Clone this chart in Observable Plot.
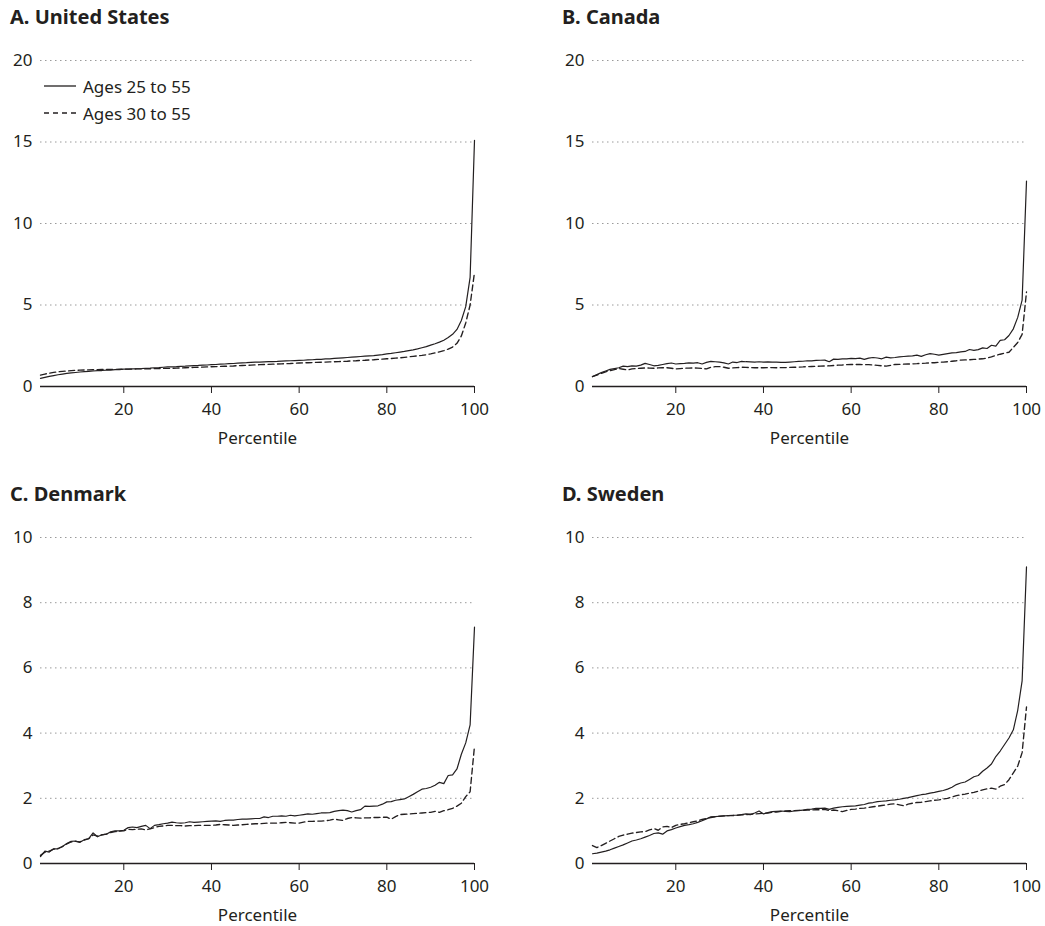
<!DOCTYPE html>
<html>
<head>
<meta charset="utf-8">
<script src="https://cdn.jsdelivr.net/npm/d3@7"></script>
<script src="https://cdn.jsdelivr.net/npm/@observablehq/plot@0.6"></script>
<style>
  body { margin: 0; background: #fff; font-family: "Noto Sans", sans-serif; color: #231f20; }
  #root { position: relative; width: 1045px; height: 926px; overflow: hidden; }
  .panel { position: absolute; width: 530px; height: 470px; }
  .title { position: absolute; left: 10px; top: 5px; font-weight: 700; font-size: 20px; line-height: 24px; white-space: nowrap; color: #231f20; }
  .chart { position: absolute; left: 0; top: 40px; }
  .legend-row { position: absolute; left: 44px; height: 26px; display: flex; align-items: center; font-size: 17px; white-space: nowrap; }
  .legend-row svg { margin-right: 7px; }
</style>
</head>
<body>
<div id="root"></div>
<script>
// ---------- data ----------
const percentiles = d3.range(1, 101);
const xTicks = [20, 40, 60, 80, 100];
const seriesNames = ["Ages 25 to 55", "Ages 30 to 55"];

const panelTitles = ["A. United States", "B. Canada", "C. Denmark", "D. Sweden"];
const yTicksTop = [0, 5, 10, 15, 20];
const yTicksBottom = [0, 2, 4, 6, 8, 10];

const usSolid = [
  0.50,0.56,0.62,0.67,0.72,0.76,0.80,0.83,0.86,0.89,
  0.91,0.93,0.95,0.97,0.98,1.00,1.01,1.03,1.04,1.06,
  1.07,1.08,1.09,1.10,1.12,1.13,1.15,1.16,1.18,1.20,
  1.21,1.22,1.24,1.25,1.27,1.28,1.29,1.31,1.32,1.34,
  1.35,1.37,1.38,1.40,1.41,1.43,1.45,1.46,1.48,1.50,
  1.50,1.51,1.52,1.53,1.54,1.56,1.57,1.58,1.59,1.60,
  1.61,1.63,1.64,1.66,1.67,1.69,1.70,1.72,1.74,1.76,
  1.78,1.80,1.82,1.84,1.86,1.88,1.90,1.93,1.96,2.00,
  2.03,2.07,2.11,2.15,2.20,2.25,2.31,2.38,2.45,2.54,
  2.62,2.72,2.84,3.00,3.20,3.50,4.05,4.90,6.70,15.10
];
const usDashed = [
  0.70,0.76,0.82,0.87,0.90,0.93,0.95,0.97,0.99,1.00,
  1.01,1.02,1.03,1.03,1.04,1.04,1.05,1.05,1.06,1.06,
  1.07,1.07,1.08,1.08,1.09,1.09,1.10,1.10,1.11,1.11,
  1.12,1.13,1.14,1.15,1.16,1.17,1.18,1.19,1.20,1.21,
  1.22,1.23,1.24,1.25,1.26,1.28,1.29,1.30,1.31,1.33,
  1.34,1.35,1.36,1.37,1.38,1.39,1.40,1.41,1.43,1.44,
  1.45,1.46,1.47,1.48,1.49,1.50,1.51,1.52,1.53,1.54,
  1.55,1.57,1.58,1.60,1.61,1.63,1.64,1.66,1.68,1.70,
  1.72,1.74,1.76,1.79,1.82,1.85,1.88,1.91,1.95,2.00,
  2.06,2.13,2.20,2.30,2.42,2.65,3.10,3.90,5.00,7.00
];
const caSolid = [
  0.61,0.73,0.85,0.95,1.05,1.10,1.15,1.25,1.22,1.27,
  1.25,1.31,1.42,1.35,1.27,1.30,1.35,1.40,1.44,1.38,
  1.40,1.42,1.45,1.44,1.46,1.38,1.48,1.54,1.52,1.50,
  1.45,1.38,1.50,1.47,1.54,1.52,1.51,1.50,1.52,1.50,
  1.51,1.50,1.49,1.48,1.48,1.50,1.52,1.54,1.55,1.58,
  1.57,1.60,1.61,1.62,1.52,1.68,1.67,1.69,1.70,1.72,
  1.71,1.74,1.66,1.74,1.78,1.75,1.70,1.80,1.76,1.78,
  1.82,1.84,1.86,1.88,1.92,1.85,1.95,2.02,1.98,1.92,
  1.97,2.02,2.06,2.08,2.12,2.15,2.27,2.22,2.26,2.37,
  2.33,2.53,2.48,2.83,2.87,3.13,3.54,4.24,5.30,12.60
];
const caDashed = [
  0.60,0.70,0.80,0.90,0.97,1.04,1.10,1.06,1.02,1.08,
  1.10,1.12,1.14,1.13,1.12,1.14,1.15,1.15,1.12,1.08,
  1.10,1.12,1.13,1.14,1.13,1.11,1.08,1.18,1.22,1.22,
  1.18,1.12,1.14,1.16,1.18,1.17,1.16,1.15,1.15,1.15,
  1.16,1.16,1.15,1.16,1.16,1.17,1.18,1.19,1.20,1.22,
  1.23,1.24,1.25,1.26,1.27,1.29,1.31,1.32,1.34,1.35,
  1.35,1.35,1.34,1.34,1.32,1.30,1.27,1.25,1.30,1.35,
  1.36,1.37,1.38,1.39,1.40,1.42,1.43,1.45,1.46,1.48,
  1.50,1.52,1.55,1.58,1.62,1.63,1.64,1.66,1.68,1.70,
  1.75,1.82,1.90,1.98,2.05,2.10,2.40,2.70,3.20,5.80
];
const dkSolid = [
  0.21,0.38,0.35,0.45,0.45,0.52,0.61,0.68,0.69,0.65,
  0.73,0.76,0.94,0.82,0.88,0.90,0.97,1.00,1.00,1.02,
  1.10,1.12,1.10,1.14,1.17,1.07,1.17,1.19,1.22,1.24,
  1.27,1.25,1.24,1.25,1.28,1.26,1.27,1.28,1.29,1.30,
  1.31,1.29,1.32,1.33,1.33,1.35,1.36,1.36,1.37,1.38,
  1.38,1.43,1.41,1.45,1.45,1.46,1.45,1.48,1.46,1.48,
  1.50,1.52,1.51,1.53,1.55,1.55,1.56,1.60,1.62,1.64,
  1.62,1.58,1.62,1.65,1.76,1.75,1.76,1.77,1.82,1.89,
  1.90,1.94,1.96,1.98,2.05,2.12,2.20,2.28,2.30,2.34,
  2.40,2.49,2.45,2.70,2.72,2.90,3.35,3.70,4.25,7.25
];
const dkDashed = [
  0.25,0.35,0.38,0.44,0.46,0.52,0.60,0.66,0.68,0.66,
  0.72,0.76,0.88,0.84,0.88,0.90,0.95,0.98,0.99,1.00,
  1.05,1.04,1.05,1.06,1.03,1.06,1.10,1.14,1.15,1.17,
  1.17,1.16,1.16,1.15,1.16,1.16,1.17,1.17,1.17,1.17,
  1.18,1.20,1.19,1.18,1.17,1.18,1.19,1.20,1.21,1.22,
  1.22,1.23,1.24,1.24,1.24,1.25,1.26,1.25,1.24,1.24,
  1.27,1.29,1.29,1.30,1.30,1.31,1.33,1.36,1.34,1.32,
  1.38,1.41,1.40,1.39,1.40,1.40,1.41,1.41,1.42,1.42,
  1.36,1.44,1.50,1.51,1.52,1.53,1.54,1.55,1.56,1.57,
  1.60,1.57,1.62,1.65,1.69,1.76,1.85,2.05,2.20,3.60
];
const seSolid = [
  0.30,0.32,0.35,0.38,0.42,0.47,0.52,0.57,0.63,0.69,
  0.72,0.76,0.81,0.86,0.92,0.94,0.90,1.00,1.04,1.09,
  1.13,1.17,1.19,1.22,1.26,1.31,1.37,1.43,1.44,1.45,
  1.46,1.47,1.48,1.48,1.50,1.52,1.50,1.55,1.61,1.52,
  1.56,1.59,1.60,1.61,1.60,1.59,1.61,1.62,1.64,1.66,
  1.67,1.69,1.69,1.70,1.66,1.70,1.72,1.74,1.75,1.76,
  1.77,1.79,1.81,1.85,1.87,1.90,1.91,1.92,1.94,1.95,
  1.97,2.00,2.02,2.05,2.08,2.11,2.13,2.16,2.18,2.21,
  2.24,2.28,2.34,2.42,2.47,2.50,2.58,2.66,2.70,2.83,
  2.93,3.05,3.28,3.45,3.65,3.85,4.10,4.70,5.60,9.10
];
const seDashed = [
  0.55,0.49,0.55,0.62,0.69,0.76,0.83,0.87,0.90,0.93,
  0.95,0.97,0.98,1.03,1.07,1.02,1.12,1.14,1.10,1.17,
  1.20,1.22,1.25,1.28,1.31,1.35,1.38,1.41,1.43,1.45,
  1.46,1.47,1.47,1.48,1.49,1.50,1.51,1.52,1.53,1.54,
  1.55,1.57,1.58,1.60,1.61,1.62,1.62,1.63,1.63,1.64,
  1.64,1.65,1.65,1.66,1.62,1.64,1.62,1.59,1.63,1.66,
  1.67,1.69,1.70,1.72,1.74,1.76,1.78,1.80,1.82,1.83,
  1.80,1.77,1.82,1.85,1.87,1.88,1.90,1.92,1.94,1.95,
  1.98,2.00,2.04,2.08,2.11,2.13,2.16,2.18,2.22,2.26,
  2.29,2.31,2.28,2.37,2.42,2.57,2.78,2.99,3.40,4.80
];

// ---------- layout ----------
const INK = "#231f20";
const root = document.getElementById("root");

function buildPanel(title, left, top, yMax, yTicks, solid, dashed, withLegend) {
  const div = document.createElement("div");
  div.className = "panel";
  div.style.left = left + "px";
  div.style.top = top + "px";

  const t = document.createElement("div");
  t.className = "title";
  t.textContent = title;
  div.appendChild(t);

  const solidRows = percentiles.map((p, i) => ({p, v: solid[i]}));
  const dashedRows = percentiles.map((p, i) => ({p, v: dashed[i]}));

  const chart = Plot.plot({
    width: 500,
    height: 400,
    marginLeft: 40,
    marginRight: 26,
    marginTop: 20,
    marginBottom: 54,
    style: {fontFamily: '"Noto Sans", sans-serif', fontSize: "17px", color: INK, background: "transparent", overflow: "visible"},
    x: {domain: [1, 100]},
    y: {domain: [0, yMax]},
    marks: [
      Plot.gridY(yTicks.filter(d => d > 0), {stroke: "#9a9a9a", strokeOpacity: 1, strokeWidth: 1, strokeDasharray: "1.5,3.5"}),
      Plot.axisY(yTicks, {tickSize: 0, tickPadding: 8, label: null, fill: INK}),
      Plot.axisX(xTicks, {tickSize: 7, tickPadding: 9, label: "Percentile", labelAnchor: "center", labelArrow: "none", labelOffset: 57, fill: INK, stroke: INK}),
      Plot.ruleY([0], {stroke: INK, strokeWidth: 1.3}),
      Plot.line(dashedRows, {x: "p", y: "v", stroke: INK, strokeWidth: 1.35, strokeDasharray: "6,3.5"}),
      Plot.line(solidRows, {x: "p", y: "v", stroke: INK, strokeWidth: 1.2})
    ]
  });
  chart.classList.add("chart");
  div.appendChild(chart);

  if (withLegend) {
    [[seriesNames[0], null, 73], [seriesNames[1], "5,4", 100]].forEach(([name, dash, y]) => {
      const row = document.createElement("div");
      row.className = "legend-row";
      row.style.top = y + "px";
      row.innerHTML = `<svg width="32" height="4"><line x1="0" y1="2" x2="32" y2="2" stroke="${INK}" stroke-width="1.3" ${dash ? `stroke-dasharray="${dash}"` : ""}/></svg><span></span>`;
      row.querySelector("span").textContent = name;
      div.appendChild(row);
    });
  }
  root.appendChild(div);
}

buildPanel(panelTitles[0], 0, 0, 20, yTicksTop, usSolid, usDashed, true);
buildPanel(panelTitles[1], 552, 0, 20, yTicksTop, caSolid, caDashed, false);
buildPanel(panelTitles[2], 0, 477, 10, yTicksBottom, dkSolid, dkDashed, false);
buildPanel(panelTitles[3], 552, 477, 10, yTicksBottom, seSolid, seDashed, false);
</script>
</body>
</html>
